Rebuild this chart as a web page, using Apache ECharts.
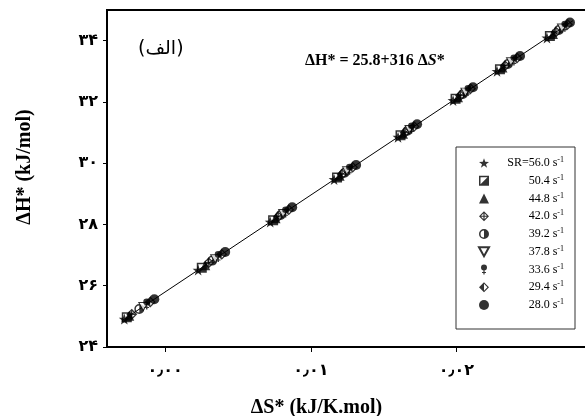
<!DOCTYPE html>
<html>
<head>
<meta charset="utf-8">
<script src="https://cdn.jsdelivr.net/npm/echarts@6/dist/echarts.min.js"></script>
<style>
  html, body { margin: 0; padding: 0; background: #fff; }
  #chart { width: 585px; height: 416px; }
</style>
</head>
<body>
<div id="chart"></div>
<script>
// shear rates (legend)
const rateLabels = ['SR=56.0 s', '50.4 s', '44.8 s', '42.0 s', '39.2 s', '37.8 s', '33.6 s', '29.4 s', '28.0 s']

// ΔS* (kJ/K.mol) and ΔH* (kJ/mol) for each shear rate
const dS_56_0 = [-0.00281, 0.00226, 0.00721, 0.01160, 0.01599, 0.01977, 0.02279, 0.02622]
const dH_56_0 = [24.91, 26.51, 28.08, 29.47, 30.85, 32.05, 33.00, 34.09]
const dS_50_4 = [-0.00264, 0.00251, 0.00741, 0.01180, 0.01616, 0.01994, 0.02299, 0.02642]
const dH_50_4 = [24.97, 26.59, 28.14, 29.53, 30.91, 32.10, 33.07, 34.15]
const dS_44_8 = [-0.00247, 0.00275, 0.00758, 0.01198, 0.01633, 0.02011, 0.02316, 0.02663]
const dH_44_8 = [25.02, 26.67, 28.20, 29.59, 30.96, 32.15, 33.12, 34.22]
const dS_42_0 = [-0.00230, 0.00299, 0.00776, 0.01215, 0.01647, 0.02028, 0.02334, 0.02684]
const dH_42_0 = [25.07, 26.75, 28.25, 29.64, 31.00, 32.21, 33.18, 34.28]
const dS_39_2 = [-0.00178, 0.00323, 0.00793, 0.01232, 0.01664, 0.02045, 0.02354, 0.02704]
const dH_39_2 = [25.24, 26.82, 28.31, 29.69, 31.06, 32.26, 33.24, 34.35]
const dS_37_8 = [-0.00151, 0.00343, 0.00810, 0.01249, 0.01678, 0.02062, 0.02375, 0.02725]
const dH_37_8 = [25.32, 26.88, 28.36, 29.75, 31.10, 32.32, 33.31, 34.41]
const dS_33_6 = [-0.00127, 0.00364, 0.00827, 0.01266, 0.01692, 0.02080, 0.02395, 0.02745]
const dH_33_6 = [25.40, 26.95, 28.41, 29.80, 31.15, 32.37, 33.37, 34.47]
const dS_29_4 = [-0.00103, 0.00388, 0.00848, 0.01287, 0.01709, 0.02097, 0.02416, 0.02763]
const dH_29_4 = [25.47, 27.03, 28.48, 29.87, 31.20, 32.43, 33.43, 34.53]
const dS_28_0 = [-0.00075, 0.00412, 0.00872, 0.01311, 0.01730, 0.02114, 0.02437, 0.02780]
const dH_28_0 = [25.56, 27.10, 28.56, 29.94, 31.27, 32.48, 33.50, 34.59]

// fitted line ΔH* = 25.8 + 316 ΔS*
const fitS = [-0.0030, 0.0280]
const fitH = [24.85, 34.65]

// axis ticks
const xTickValues = [0, 0.01, 0.02]
const xTickLabels = ['۰٫۰۰', '۰٫۰۱', '۰٫۰۲']
const yTickValues = [24, 26, 28, 30, 32, 34]
const yTickLabels = ['۲۴', '۲۶', '۲۸', '۳۰', '۳۲', '۳۴']

const allS = [dS_56_0, dS_50_4, dS_44_8, dS_42_0, dS_39_2, dS_37_8, dS_33_6, dS_29_4, dS_28_0]
const allH = [dH_56_0, dH_50_4, dH_44_8, dH_42_0, dH_39_2, dH_37_8, dH_33_6, dH_29_4, dH_28_0]

const SERIF = '"Liberation Serif", "Times New Roman", serif'
const ARABIC = '"DejaVu Sans", sans-serif'

// marker shapes (fill only, holes by winding)
const STAR = 'path://M5 0 L6.176 3.382 L9.755 3.455 L6.902 5.618 L7.939 9.045 L5 7 L2.061 9.045 L3.098 5.618 L0.245 3.455 L3.824 3.382 Z'
const HALF_SQUARE = 'path://M0 0 H10 V10 H0 Z M1.5 1.5 V8.5 H8.5 V1.5 Z M8.5 1.5 L8.5 8.5 L1.5 8.5 Z'
const CROSS_DIAMOND = 'path://M5 0 L10 5 L5 10 L0 5 Z M5 1.6 L1.6 5 L5 8.4 L8.4 5 Z M4.4 0.5 H5.6 V9.5 H4.4 Z M0.5 4.4 H9.5 V5.6 H0.5 Z'
const HALF_CIRCLE = 'path://M5 0 A5 5 0 1 1 5 10 A5 5 0 1 1 5 0 Z M5 1.5 A3.5 3.5 0 1 0 5 8.5 A3.5 3.5 0 1 0 5 1.5 Z M5 1.5 A3.5 3.5 0 0 1 5 8.5 Z'
const DOWN_TRI = 'path://M0 0 H10 L5 9 Z'
const PIN = 'path://M5 0 A3 3 0 1 1 5 6 A3 3 0 1 1 5 0 Z M4.4 5.5 H5.6 V10 H4.4 Z M3 7.6 H7 V8.6 H3 Z'
const HALF_DIAMOND = 'path://M5 0 L10 5 L5 10 L0 5 Z M5 1.6 L1.6 5 L5 8.4 L8.4 5 Z M5 1.6 L5 8.4 L1.6 5 Z'

const markers = [
  { symbol: STAR, size: 11 },
  { symbol: HALF_SQUARE, size: 10 },
  { symbol: 'triangle', size: 10 },
  { symbol: CROSS_DIAMOND, size: 11 },
  { symbol: HALF_CIRCLE, size: 10 },
  { symbol: DOWN_TRI, size: [9, 8], open: true },
  { symbol: PIN, size: [7, 11] },
  { symbol: HALF_DIAMOND, size: 11 },
  { symbol: 'circle', size: 10 }
]

const scatterSeries = rateLabels.map((name, i) => ({
  name: name,
  type: 'scatter',
  data: allS[i].map((s, j) => [s, allH[i][j]]),
  symbol: markers[i].symbol,
  symbolSize: markers[i].size,
  itemStyle: markers[i].open
    ? { color: '#fff', borderColor: '#000', borderWidth: 1 }
    : { color: '#000' },
  z: 3
}))

const chart = echarts.init(document.getElementById('chart'), null, { renderer: 'canvas' })
chart.setOption({
  animation: false,
  grid: {
    left: 107,
    top: 10,
    right: -17,
    bottom: 69,
    outerBoundsMode: 'none',
    containLabel: false,
    show: true,
    borderColor: '#000',
    borderWidth: 2
  },
  legend: {
    data: rateLabels,
    orient: 'vertical',
    left: 456,
    top: 147,
    itemWidth: 10,
    itemHeight: 10,
    itemGap: 4.75,
    padding: [9, 11, 18, 22],
    borderColor: '#333',
    borderWidth: 1,
    backgroundColor: '#fff',
    selectedMode: false,
    formatter: (name) => '{t|' + name + '}{s|-1}',
    textStyle: {
      width: 70,
      rich: {
        t: { fontFamily: SERIF, fontSize: 12, color: '#000', lineHeight: 14, align: 'right' },
        s: { fontFamily: SERIF, fontSize: 8, color: '#000', verticalAlign: 'top', lineHeight: 14, align: 'right' }
      }
    }
  },
  xAxis: {
    type: 'value',
    min: -0.004,
    max: 0.030,
    name: 'ΔS* (kJ/K.mol)',
    nameLocation: 'middle',
    nameGap: 51,
    nameTextStyle: { fontFamily: SERIF, fontWeight: 'bold', fontSize: 20, color: '#000', padding: [0, 76, 0, 0] },
    axisLine: { onZero: false, lineStyle: { color: '#000', width: 2 } },
    axisTick: { show: true, inside: false, length: 5, customValues: xTickValues, lineStyle: { color: '#000', width: 1 } },
    axisLabel: {
      customValues: xTickValues,
      margin: 16,
      fontFamily: ARABIC,
      fontWeight: 'bold',
      fontSize: 16,
      color: '#000',
      formatter: (v) => xTickLabels[xTickValues.indexOf(v)]
    },
    splitLine: { show: false }
  },
  yAxis: {
    type: 'value',
    min: 24,
    max: 35,
    name: 'ΔH* (kJ/mol)',
    nameLocation: 'middle',
    nameGap: 72,
    nameTextStyle: { fontFamily: SERIF, fontWeight: 'bold', fontSize: 20, color: '#000', padding: [0, 0, 0, 23] },
    axisLine: { onZero: false, lineStyle: { color: '#000', width: 2 } },
    axisTick: { show: true, inside: false, length: 4, customValues: yTickValues, lineStyle: { color: '#000', width: 1 } },
    axisLabel: {
      customValues: yTickValues,
      margin: 9,
      fontFamily: ARABIC,
      fontWeight: 'bold',
      fontSize: 16,
      color: '#000',
      formatter: (v) => yTickLabels[yTickValues.indexOf(v)]
    },
    splitLine: { show: false }
  },
  graphic: [
    {
      type: 'text',
      left: 138,
      top: 40,
      style: { text: '(الف)', fontFamily: ARABIC, fontSize: 19, fill: '#000' }
    },
    {
      type: 'text',
      left: 305,
      top: 53,
      style: {
        text: '{a|ΔH* = 25.8+316 Δ}{b|S}{a|*}',
        rich: {
          a: { fontFamily: SERIF, fontWeight: 'bold', fontSize: 16, fill: '#000' },
          b: { fontFamily: SERIF, fontWeight: 'bold', fontStyle: 'italic', fontSize: 16, fill: '#000' }
        }
      }
    }
  ],
  series: [
    {
      name: 'fit',
      type: 'line',
      data: fitS.map((s, i) => [s, fitH[i]]),
      showSymbol: false,
      symbol: 'none',
      lineStyle: { color: '#000', width: 1 },
      silent: true,
      z: 1
    }
  ].concat(scatterSeries)
})
</script>
</body>
</html>
